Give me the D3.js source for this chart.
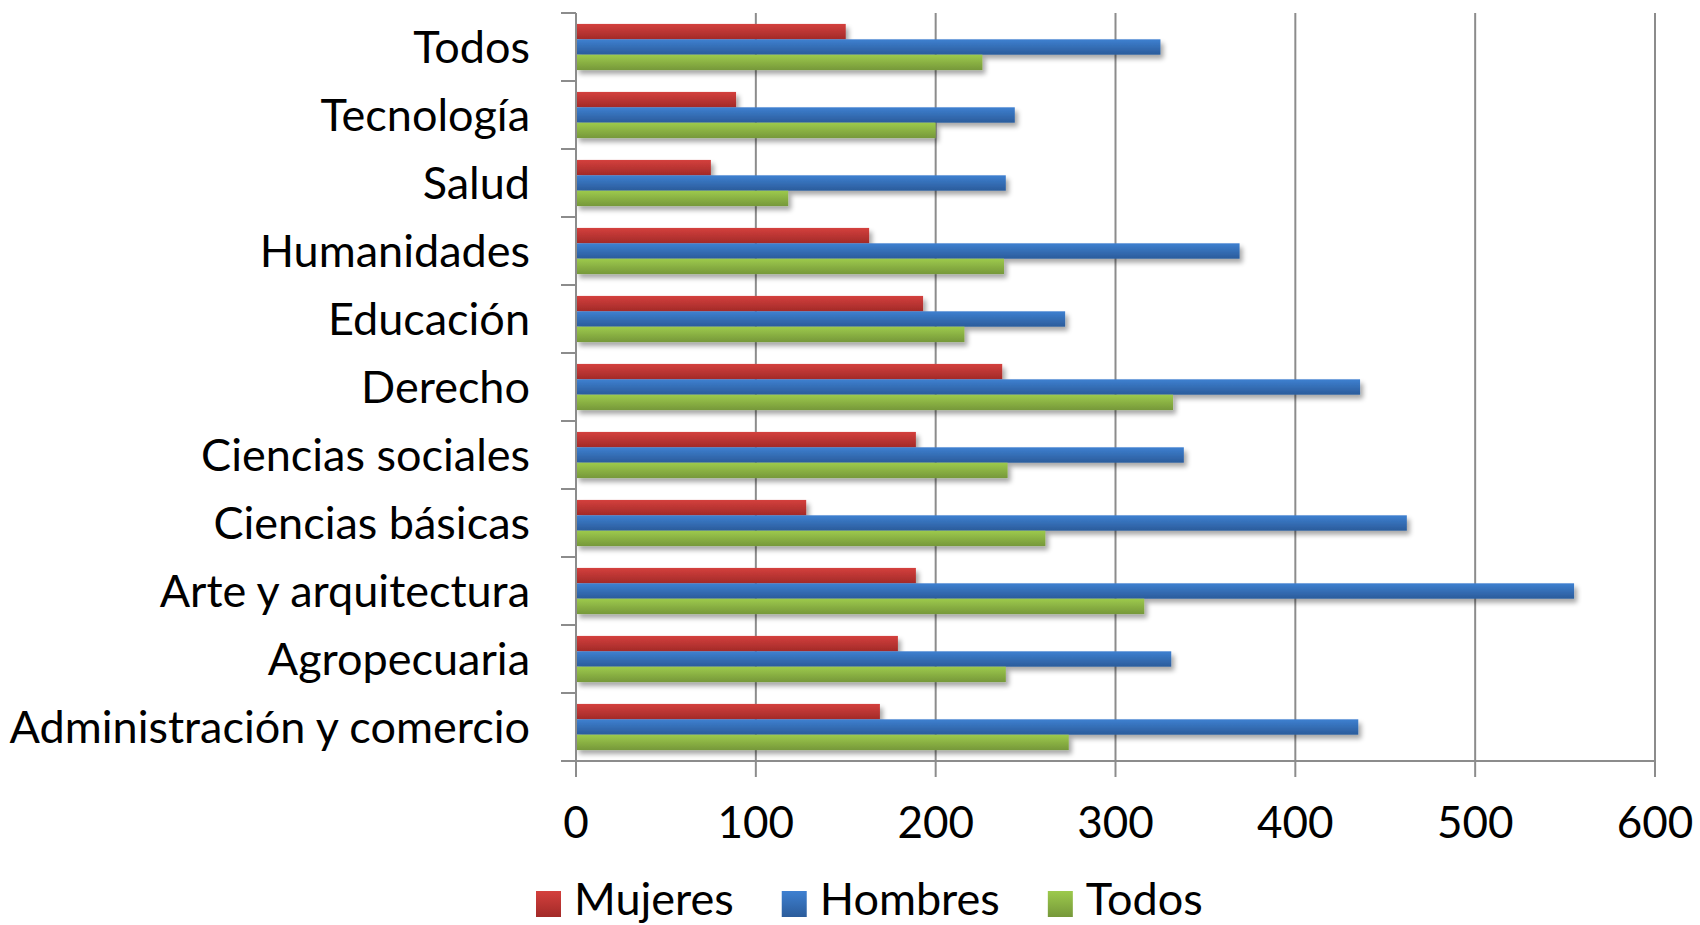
<!DOCTYPE html>
<html>
<head>
<meta charset="utf-8">
<script src="https://cdn.jsdelivr.net/npm/d3@7"></script>
<style>
  html, body { margin: 0; padding: 0; background: #fff; }
  svg { display: block; }
  text { font-family: Lato, "Open Sans", sans-serif; fill: #000; }
</style>
</head>
<body>
<svg id="chart" width="1700" height="925"></svg>
<script>
// ---- data ----
const categories = ["Todos", "Tecnología", "Salud", "Humanidades", "Educación", "Derecho",
  "Ciencias sociales", "Ciencias básicas", "Arte y arquitectura", "Agropecuaria",
  "Administración y comercio"];
const seriesNames = ["Mujeres", "Hombres", "Todos"];
const mujeres = [150, 89, 75, 163, 193, 237, 189, 128, 189, 179, 169];
const hombres = [325, 244, 239, 369, 272, 436, 338, 462, 555, 331, 435];
const todos   = [226, 200, 118, 238, 216, 332, 240, 261, 316, 239, 274];
const xTicks = [0, 100, 200, 300, 400, 500, 600];

const seriesValues = [mujeres, hombres, todos];
const colors = [
  { top: "#d4403d", bot: "#a22a28" },
  { top: "#3e80d1", bot: "#2b5c9b" },
  { top: "#9dca4c", bot: "#76983a" }
];

const svg = d3.select("#chart");
const margin = { left: 576, right: 45, top: 13, bottom: 164 };
const W = 1700, H = 925;
const plotL = margin.left, plotR = W - margin.right, plotT = margin.top, plotB = H - margin.bottom;

const x = d3.scaleLinear().domain([0, 600]).range([plotL, plotR]);
const y = d3.scaleBand().domain(categories).range([plotT, plotB]).paddingInner(0).paddingOuter(0);
const inner = d3.scaleBand().domain(seriesNames).range([0, y.bandwidth()]).paddingOuter(0.71).paddingInner(0);

// defs: gradients + shadow
const defs = svg.append("defs");
colors.forEach((c, i) => {
  const g = defs.append("linearGradient").attr("id", "grad" + i)
    .attr("x1", 0).attr("y1", 0).attr("x2", 0).attr("y2", 1);
  g.append("stop").attr("offset", "0%").attr("stop-color", c.top);
  g.append("stop").attr("offset", "100%").attr("stop-color", c.bot);
});
const f = defs.append("filter").attr("id", "shadow")
  .attr("x", "-5%").attr("y", "-50%").attr("width", "115%").attr("height", "250%");
f.append("feGaussianBlur").attr("in", "SourceAlpha").attr("stdDeviation", 2.5).attr("result", "b");
f.append("feOffset").attr("in", "b").attr("dx", 3).attr("dy", 4).attr("result", "o");
f.append("feComponentTransfer").attr("in", "o").attr("result", "s")
  .append("feFuncA").attr("type", "linear").attr("slope", 0.35);
const fm = f.append("feMerge");
fm.append("feMergeNode").attr("in", "s");
fm.append("feMergeNode").attr("in", "SourceGraphic");

// gridlines
const gridColor = "#8c8c8c";
svg.append("g").selectAll("line").data(xTicks.slice(1)).join("line")
  .attr("x1", d => x(d)).attr("x2", d => x(d))
  .attr("y1", plotT).attr("y2", plotB)
  .attr("stroke", gridColor).attr("stroke-width", 2);

// bars
const groups = svg.append("g").selectAll("g").data(categories).join("g")
  .attr("transform", d => `translate(0,${y(d)})`);
seriesNames.forEach((s, si) => {
  groups.append("rect")
    .attr("x", x(0))
    .attr("y", inner(s))
    .attr("width", (d, i) => x(seriesValues[si][i]) - x(0))
    .attr("height", inner.bandwidth())
    .attr("fill", `url(#grad${si})`)
    .attr("filter", "url(#shadow)");
});

// y axis
const yAxis = svg.append("g");
yAxis.append("line").attr("x1", plotL).attr("x2", plotL).attr("y1", plotT).attr("y2", plotB)
  .attr("stroke", gridColor).attr("stroke-width", 2);
const boundaries = categories.map(c => y(c)).concat([plotB]);
yAxis.selectAll("line.tick").data(boundaries).join("line").attr("class", "tick")
  .attr("x1", plotL - 15).attr("x2", plotL).attr("y1", d => d).attr("y2", d => d)
  .attr("stroke", gridColor).attr("stroke-width", 2);
yAxis.selectAll("text").data(categories).join("text")
  .attr("x", 530).attr("y", d => y(d) + y.bandwidth() / 2 + 16)
  .attr("text-anchor", "end").attr("font-size", 45)
  .text(d => d);

// x axis
const xAxis = svg.append("g");
xAxis.append("line").attr("x1", plotL - 15).attr("x2", plotR).attr("y1", plotB).attr("y2", plotB)
  .attr("stroke", gridColor).attr("stroke-width", 2);
xAxis.selectAll("line.tick").data(xTicks).join("line").attr("class", "tick")
  .attr("x1", d => x(d)).attr("x2", d => x(d)).attr("y1", plotB).attr("y2", plotB + 16)
  .attr("stroke", gridColor).attr("stroke-width", 2);
xAxis.selectAll("text").data(xTicks).join("text")
  .attr("x", d => x(d)).attr("y", 838)
  .attr("text-anchor", "middle").attr("font-size", 44)
  .text(d => d);

// legend
const legend = svg.append("g");
let lx = 536;
seriesNames.forEach((s, si) => {
  legend.append("rect").attr("x", lx).attr("y", 891).attr("width", 25).attr("height", 26)
    .attr("fill", `url(#grad${si})`);
  const t = legend.append("text").attr("x", lx + 38).attr("y", 915)
    .attr("font-size", 45).text(s);
  const w = t.node().getComputedTextLength();
  lx = lx + 38 + w + 48;
});
</script>
</body>
</html>
